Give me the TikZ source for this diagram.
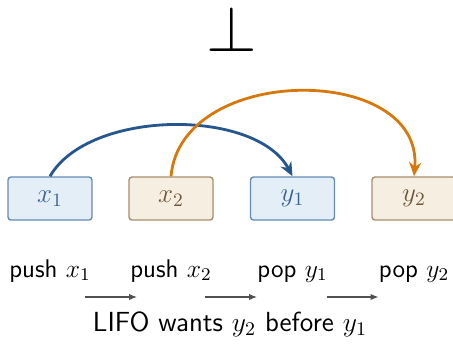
\documentclass[tikz,border=0pt]{standalone}
\usepackage{fix-cm}
\usepackage{tikz}
\usetikzlibrary{arrows.meta}
\definecolor{myblue1}{RGB}{228, 238, 246}
\definecolor{myblue2}{RGB}{100, 140, 182}
\definecolor{myblue3}{RGB}{58, 98, 148}
\definecolor{mytan1}{RGB}{245, 238, 225}
\definecolor{mytan2}{RGB}{166, 142, 110}
\definecolor{mytan3}{RGB}{110, 88, 58}
\definecolor{myarcblue}{RGB}{38, 86, 142}
\definecolor{myarcorange}{RGB}{214, 120, 12}
\definecolor{mygray2}{RGB}{80, 80, 80}
\tikzset{>=latex}
\tikzset{
  cell/.style = {rounded corners = 1.5pt, line width = 0.7pt, minimum width = 42pt,
                 minimum height = 21.5pt, inner sep = 0pt, font = \fontsize{13.5}{15}\selectfont},
  bluecell/.style = {cell, fill = myblue1, draw = myblue2, text = myblue3},
  tancell/.style = {cell, fill = mytan1, draw = mytan2, text = mytan3},
  oplabel/.style = {anchor = base, font = \fontsize{12.8}{15}\selectfont\sffamily},
  flow/.style = {-{Latex[length = 4pt, width = 3.2pt]}, draw = mygray2, line width = 0.6pt}
}

\begin{document}
\begin{tikzpicture}[x = 0.5pt, y = -0.5pt]
\useasboundingbox (0,0) rectangle (453,344);
% bottom element
\node[anchor = base, inner sep = 0pt, font = \fontsize{32.5}{34}\selectfont] (bot) at (232,51.5) {$\bot$};
% the four operations
\node[bluecell] (x1) at (50,198.5) {$x_1$};
\node[tancell]  (x2) at (171,198.5) {$x_2$};
\node[bluecell] (y1) at (292.5,198.5) {$y_1$};
\node[tancell]  (y2) at (414,198.5) {$y_2$};
\draw[myarcblue, line width = 1.4pt, -{Stealth[length = 7pt, width = 6pt]}]
  (x1.north) to[out = 60, in = 118, looseness = 0.82] (y1.north);
\draw[myarcorange, line width = 1.4pt, -{Stealth[length = 7pt, width = 6pt]}]
  (x2.north) to[out = 85, in = 85, looseness = 1.2] (y2.north);
% labels and order
\node[oplabel] (l1) at (50,277) {push $x_1$};
\node[oplabel] (l2) at (171,277) {push $x_2$};
\node[oplabel] (l3) at (292.5,277) {pop $y_1$};
\node[oplabel] (l4) at (414,277) {pop $y_2$};
\foreach \i/\x in {1/111, 2/231, 3/352.5}{
  \coordinate (s\i) at (\x-26,297);
  \coordinate (e\i) at (\x+26,297);
  \draw[flow] (s\i) -- (e\i);
}
\node[oplabel, font = \fontsize{13.8}{16}\selectfont\sffamily] (lifo) at (230,331) {LIFO wants $y_2$ before $y_1$};
\end{tikzpicture}
\end{document}
